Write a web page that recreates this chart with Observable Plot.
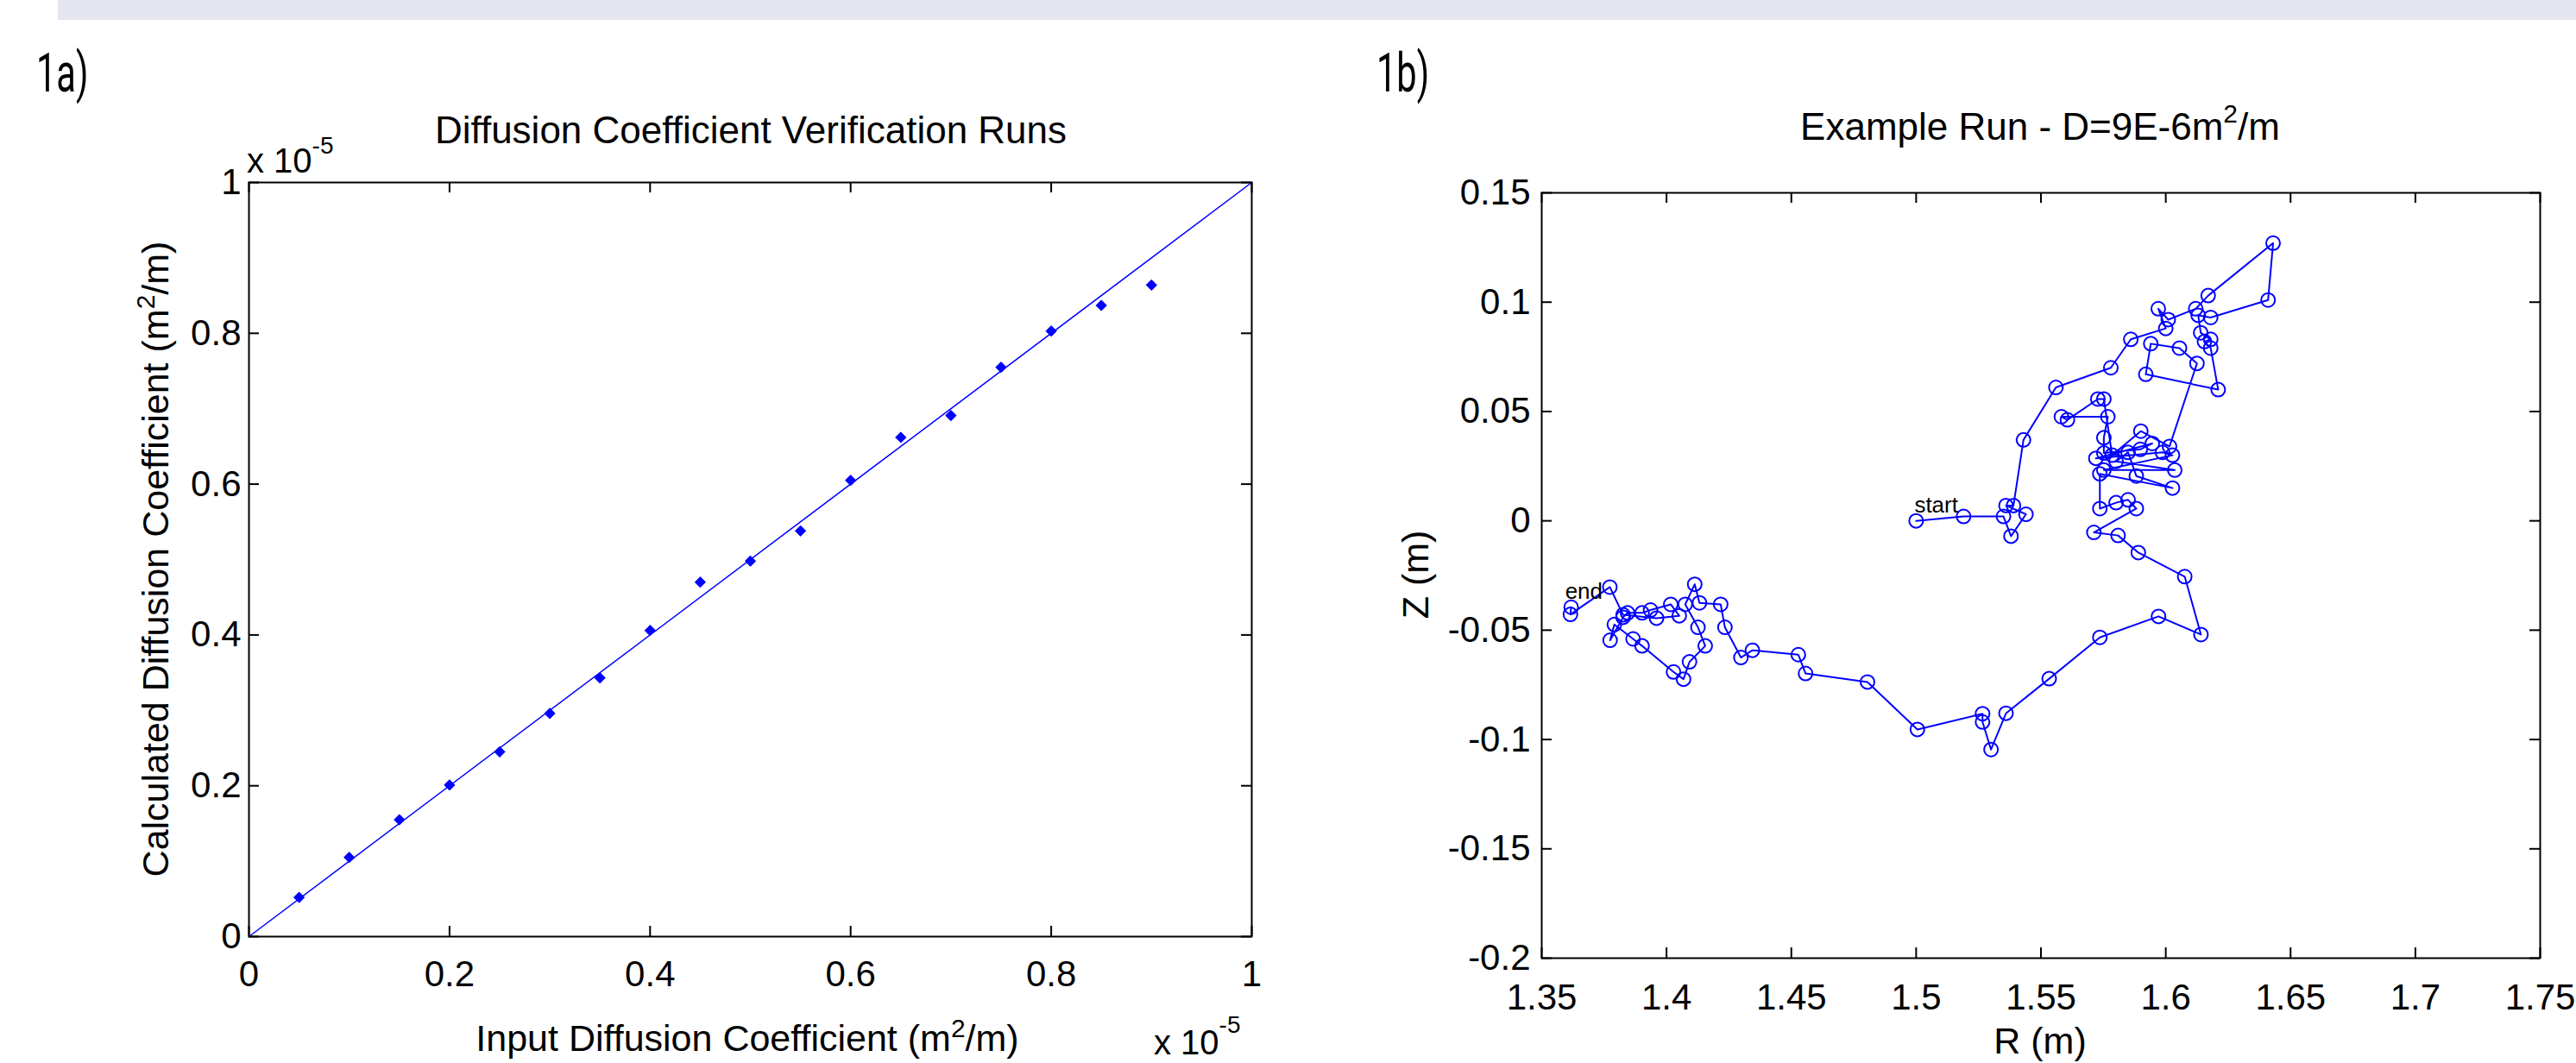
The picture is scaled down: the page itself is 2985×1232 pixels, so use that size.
<!DOCTYPE html>
<html><head><meta charset="utf-8">
<script src="https://cdn.jsdelivr.net/npm/d3@7"></script>
<script src="https://cdn.jsdelivr.net/npm/@observablehq/plot@0.6"></script>
<style>
body{margin:0;background:#fff;width:2985px;height:1232px;overflow:hidden;position:relative;font-family:"Liberation Sans",Arial,sans-serif;}
#band{position:absolute;left:67px;top:0;width:2918px;height:23px;background:#e5e5f0;}
.chart{position:absolute;top:0;}
#ann{position:absolute;left:0;top:0;pointer-events:none;}
</style></head><body>
<div id="band"></div>
<div id="a" class="chart" style="left:0"></div>
<div id="b" class="chart" style="left:1500px"></div>
<svg id="ann" width="2985" height="1232" font-family="'Liberation Sans', Arial, sans-serif" fill="#000">
  <text transform="translate(42,106) scale(0.66,1)" font-family="Roboto, sans-serif" font-size="63">1a)</text>
  <text transform="translate(1595,106) scale(0.66,1)" font-family="Roboto, sans-serif" font-size="63">1b)</text>
  <text x="870" y="166" text-anchor="middle" font-size="44">Diffusion Coefficient Verification Runs</text>
  <text x="286" y="200" font-size="40">x 10<tspan dy="-22" font-size="28">-5</tspan></text>
  <text transform="translate(195,648) rotate(-90)" text-anchor="middle" font-size="43">Calculated Diffusion Coefficient (m<tspan dy="-16" font-size="30">2</tspan><tspan dy="16">/m)</tspan></text>
  <text x="866" y="1218" text-anchor="middle" font-size="43">Input Diffusion Coefficient (m<tspan dy="-16" font-size="30">2</tspan><tspan dy="16">/m)</tspan></text>
  <text x="1337" y="1222" font-size="40">x 10<tspan dy="-25" font-size="28">-5</tspan></text>
  <text x="2364" y="162" text-anchor="middle" font-size="44">Example Run - D=9E-6m<tspan dy="-20" font-size="30">2</tspan><tspan dy="20">/m</tspan></text>
  <text x="2364" y="1221" text-anchor="middle" font-size="43">R (m)</text>
  <text transform="translate(1655,666) rotate(-90)" text-anchor="middle" font-size="43">Z (m)</text>
</svg>
<script>
// Panel 1a: diffusion coefficient verification (values ×1e-5 m^2/m)
const inputD = [0.05,0.10,0.15,0.20,0.25,0.30,0.35,0.40,0.45,0.50,0.55,0.60,0.65,0.70,0.75,0.80,0.85,0.90];
const calcD  = [0.052,0.105,0.155,0.201,0.245,0.296,0.343,0.406,0.470,0.498,0.538,0.605,0.662,0.691,0.755,0.803,0.837,0.864];
const fitX = [0, 1];
const fitY = [0, 1];
const xTicksA = [0, 0.2, 0.4, 0.6, 0.8, 1];
const yTicksA = [0, 0.2, 0.4, 0.6, 0.8, 1];

// Panel 1b: example run trajectory
const runR = [1.500,1.519,1.535,1.538,1.544,1.536,1.539,1.543,1.556,1.578,
  1.586,1.600,1.597,1.601,1.612,1.617,1.643,1.641,1.618,1.613,
  1.614,1.618,1.6155,1.618,1.621,1.592,1.594,1.6055,1.6125,1.6015,
  1.590,1.5785,1.5752,1.5728,1.5606,1.5582,1.5768,1.5752,1.5752,1.5898,
  1.5946,1.5720,1.5987,1.6027,1.5752,1.6036,1.5801,1.5849,1.5882,1.6027,
  1.5736,1.5736,1.5801,1.5849,1.5882,1.5712,1.5809,1.589,1.6076,1.6141,
  1.5971,1.5736,1.5533,1.536,1.530,1.5266,1.5266,1.5005,1.4805,1.4557,
  1.4528,1.4344,1.4298,1.4234,1.4217,1.4132,1.4113,1.4075,1.4126,1.4155,
  1.4092,1.4068,1.4028,1.3902,1.3866,1.3791,1.3774,1.3826,1.3844,1.3902,
  1.3936,1.4017,1.4051,1.3960,1.3826,1.3773,1.3615,1.3618];
const runZ = [0.000,0.002,0.002,-0.007,0.003,0.007,0.007,0.037,0.061,0.070,
  0.083,0.088,0.097,0.092,0.097,0.103,0.127,0.101,0.093,0.094,
  0.086,0.083,0.082,0.079,0.060,0.067,0.081,0.079,0.072,0.034,
  0.041,0.030,0.0557,0.0557,0.0462,0.0476,0.0476,0.038,0.031,0.0327,
  0.0354,0.0286,0.0313,0.030,0.0232,0.0232,0.0272,0.0313,0.0205,0.015,
  0.0215,0.0056,0.0083,0.0096,0.0056,-0.0053,-0.0067,-0.0145,-0.0255,-0.052,
  -0.0437,-0.0533,-0.0722,-0.088,-0.1046,-0.092,-0.0882,-0.0954,-0.0737,-0.0698,
  -0.0612,-0.0592,-0.0625,-0.0487,-0.0382,-0.0375,-0.029,-0.0382,-0.0487,-0.0572,
  -0.0645,-0.0724,-0.0691,-0.0572,-0.054,-0.0474,-0.0546,-0.0441,-0.0421,-0.0421,
  -0.0408,-0.0382,-0.0434,-0.0445,-0.0430,-0.0303,-0.0428,-0.0395];
const startLabel = "start";
const endLabel = "end";
const xTicksB = [1.35,1.4,1.45,1.5,1.55,1.6,1.65,1.7,1.75];
const yTicksB = [-0.2,-0.15,-0.1,-0.05,0,0.05,0.1,0.15];

const blue = "#0000ff";
const fmt = d => String(d);
const tick = 12;
const baseStyle = {background:"transparent", maxWidth:"none", overflow:"visible",
  fontFamily:"'Liberation Sans', Arial, sans-serif", fontSize:"42px", color:"#000"};

// ---- Chart A
const A = {w:1500, h:1232, ml:288, mr:50, mt:211, mb:147};
const fwA = A.w - A.ml - A.mr, fhA = A.h - A.mt - A.mb;
const chartA = Plot.plot({
  width: A.w, height: A.h,
  marginLeft: A.ml, marginRight: A.mr, marginTop: A.mt, marginBottom: A.mb,
  style: baseStyle,
  x: {domain:[0,1], ticks: xTicksA, tickSize:0, tickPadding:28, tickFormat: fmt, label:null},
  y: {domain:[0,1], ticks: yTicksA, tickSize:0, tickPadding:9, tickFormat: fmt, label:null},
  marks: [
    Plot.tickX(xTicksA, {x:d=>d, insetTop: fhA - tick, stroke:"#000", strokeWidth:2}),
    Plot.tickX(xTicksA, {x:d=>d, insetBottom: fhA - tick, stroke:"#000", strokeWidth:2}),
    Plot.tickY(yTicksA, {y:d=>d, insetRight: fwA - tick, stroke:"#000", strokeWidth:2}),
    Plot.tickY(yTicksA, {y:d=>d, insetLeft: fwA - tick, stroke:"#000", strokeWidth:2}),
    Plot.line(fitX, {x:d=>d, y:(d,i)=>fitY[i], stroke: blue, strokeWidth:1.5}),
    Plot.dot(inputD, {x:d=>d, y:(d,i)=>calcD[i], symbol:"diamond2", r:5.5, fill: blue, stroke: blue, strokeWidth:1}),
    Plot.frame({stroke:"#000", strokeWidth:2})
  ]
});
document.getElementById("a").appendChild(chartA);

// ---- Chart B
const B = {w:1485, h:1232, ml:286, mr:42, mt:223, mb:122};
const fwB = B.w - B.ml - B.mr, fhB = B.h - B.mt - B.mb;
const idx = d3.range(runR.length);
const last = runR.length - 1;
const chartB = Plot.plot({
  width: B.w, height: B.h,
  marginLeft: B.ml, marginRight: B.mr, marginTop: B.mt, marginBottom: B.mb,
  style: baseStyle,
  x: {domain:[1.35,1.75], ticks: xTicksB, tickSize:0, tickPadding:30, tickFormat: fmt, label:null},
  y: {domain:[-0.2,0.15], ticks: yTicksB, tickSize:0, tickPadding:13, tickFormat: fmt, label:null},
  marks: [
    Plot.tickX(xTicksB, {x:d=>d, insetTop: fhB - tick, stroke:"#000", strokeWidth:2}),
    Plot.tickX(xTicksB, {x:d=>d, insetBottom: fhB - tick, stroke:"#000", strokeWidth:2}),
    Plot.tickY(yTicksB, {y:d=>d, insetRight: fwB - tick, stroke:"#000", strokeWidth:2}),
    Plot.tickY(yTicksB, {y:d=>d, insetLeft: fwB - tick, stroke:"#000", strokeWidth:2}),
    Plot.line(idx, {x:i=>runR[i], y:i=>runZ[i], stroke: blue, strokeWidth:2}),
    Plot.dot(idx, {x:i=>runR[i], y:i=>runZ[i], r:8, stroke: blue, strokeWidth:2, fill:"none"}),
    Plot.text([0], {x:i=>runR[i], y:i=>runZ[i], text:()=>startLabel, textAnchor:"start",
      lineAnchor:"bottom", dy:-10, dx:-2, fontSize:26, fill:"#000"}),
    Plot.text([last], {x:i=>runR[i], y:i=>runZ[i], text:()=>endLabel, textAnchor:"start",
      lineAnchor:"bottom", dy:-10, dx:-7, fontSize:26, fill:"#000"}),
    Plot.frame({stroke:"#000", strokeWidth:2})
  ]
});
document.getElementById("b").appendChild(chartB);
</script>
</body></html>
